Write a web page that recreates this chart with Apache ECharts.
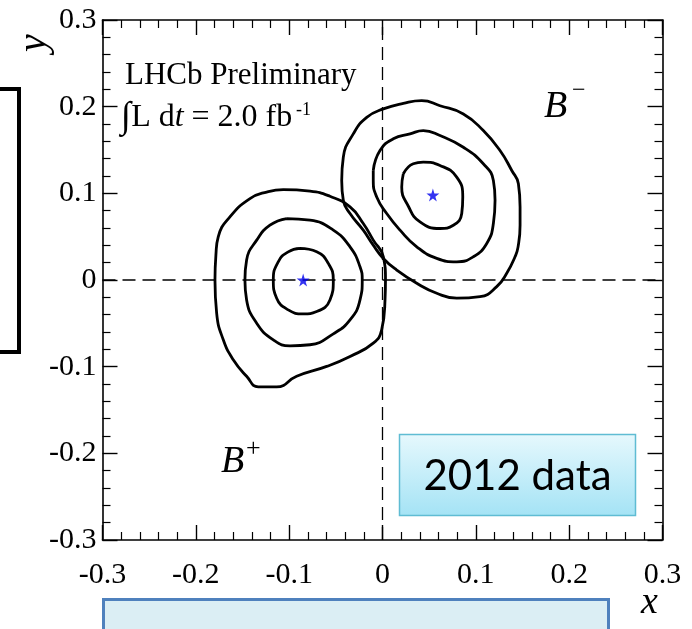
<!DOCTYPE html>
<html>
<head>
<meta charset="utf-8">
<script src="https://cdn.jsdelivr.net/npm/echarts@6/dist/echarts.min.js"></script>
<style>
html,body{margin:0;padding:0;background:#fff;}
#c{width:692px;height:629px;}
</style>
</head>
<body>
<div id="c"></div>
<script>
// ---- axis ----
const axisMin = -0.3;
const axisMax = 0.3;
const axisStep = 0.1;

// ---- best-fit points ----
const bPlusBest = [[-0.085, 0.0]];
const bMinusBest = [[0.054, 0.098]];

// ---- B+ contours (x, y) ----
const bPlusInner = [
  [-0.0884,0.0364],[-0.0705,0.0325],[-0.0581,0.0192],[-0.0527,0.0],[-0.0563,-0.0230],
  [-0.0705,-0.0364],[-0.0849,-0.0391],[-0.1010,-0.0345],[-0.1134,-0.0210],[-0.1170,0.0],
  [-0.1117,0.0210],[-0.1010,0.0325],[-0.0884,0.0364]
];
const bPlusMiddle = [
  [-0.1027,0.0709],[-0.0777,0.0690],[-0.0527,0.0575],[-0.0348,0.0383],[-0.0241,0.0153],
  [-0.0217,0.0],[-0.0241,-0.0230],[-0.0348,-0.0460],[-0.0527,-0.0621],[-0.0777,-0.0747],
  [-0.0991,-0.0759],[-0.1170,-0.0690],[-0.1348,-0.0498],[-0.1456,-0.0230],[-0.1474,0.0],
  [-0.1456,0.0230],[-0.1348,0.0460],[-0.1206,0.0632],[-0.1027,0.0709]
];
const bPlusOuter = [
  [-0.1795,0.0],[-0.1785,0.0287],[-0.1760,0.0498],[-0.1635,0.0728],[-0.1420,0.0939],
  [-0.1241,0.1015],[-0.1063,0.1043],[-0.0777,0.1026],[-0.0563,0.0966],[-0.0348,0.0843],
  [-0.0206,0.0652],[-0.0099,0.0460],[0.0009,0.0268],[0.0032,0.0],[0.0027,-0.0230],
  [-0.0009,-0.0575],[-0.0099,-0.0728],[-0.0348,-0.0882],[-0.0598,-0.0997],[-0.0920,-0.1111],
  [-0.1134,-0.1233],[-0.1331,-0.1233],[-0.1456,-0.1111],[-0.1599,-0.0920],[-0.1706,-0.0690],
  [-0.1777,-0.0383],[-0.1795,0.0]
];

// ---- B- contours (x, y) ----
const bMinusInner = [
  [0.0223,0.1226],[0.0330,0.1341],[0.0437,0.1360],[0.0616,0.1322],[0.0795,0.1187],
  [0.0860,0.0957],[0.0849,0.0767],[0.0759,0.0632],[0.0616,0.0594],[0.0402,0.0670],
  [0.0277,0.0851],[0.0206,0.1072],[0.0223,0.1226]
];
const bMinusMiddle = [
  [-0.0099,0.1264],[-0.0027,0.1494],[0.0116,0.1629],[0.0295,0.1686],[0.0437,0.1724],
  [0.0616,0.1667],[0.0866,0.1532],[0.1080,0.1341],[0.1188,0.1149],[0.1206,0.0920],
  [0.1188,0.0652],[0.1117,0.0422],[0.0973,0.0268],[0.0795,0.0210],[0.0581,0.0249],
  [0.0367,0.0383],[0.0188,0.0575],[0.0045,0.0767],[-0.0062,0.0957],[-0.0099,0.1149],
  [-0.0099,0.1264]
];
const bMinusOuter = [
  [-0.0437,0.1149],[-0.0420,0.1417],[-0.0313,0.1686],[-0.0169,0.1877],[0.0009,0.1974],
  [0.0223,0.2038],[0.0420,0.2069],[0.0616,0.2011],[0.0866,0.1916],[0.1080,0.1724],
  [0.1259,0.1494],[0.1385,0.1264],[0.1456,0.1111],[0.1474,0.0843],[0.1474,0.0632],
  [0.1452,0.0379],[0.1420,0.0268],[0.1331,0.0077],[0.1224,-0.0077],[0.1045,-0.0192],
  [0.0795,-0.0210],[0.0581,-0.0153],[0.0367,-0.0038],[0.0152,0.0115],[0.0009,0.0249],
  [-0.0099,0.0402],[-0.0206,0.0575],[-0.0348,0.0767],[-0.0420,0.0920],[-0.0437,0.1149]
];

// ---- reference lines ----
const vLine = [[0, axisMin],[0, axisMax]];
const hLine = [[axisMin, 0],[axisMax, 0]];

const serif = '"Liberation Serif","DejaVu Serif",serif';
const chart = echarts.init(document.getElementById('c'), null, {renderer:'canvas'});

function axisBase(showLabel, pos) {
  return {
    type: 'value', min: axisMin, max: axisMax, interval: axisStep, position: pos,
    axisLine: {show: true, onZero: false, lineStyle: {color: '#000', width: 1.6}},
    axisTick: {show: true, inside: true, length: 15, lineStyle: {color: '#000', width: 1.4}},
    minorTick: {show: true, splitNumber: 5, length: 8, lineStyle: {color: '#000', width: 1.2}},
    splitLine: {show: false},
    axisLabel: {
      show: showLabel, color: '#000', fontFamily: serif, fontSize: 30,
      formatter: v => (Math.abs(v) < 1e-9 ? '0' : String(Math.round(v * 10) / 10))
    }
  };
}

function contour(data) {
  return {
    type: 'line', data: data, symbol: 'none', smooth: 0.5,
    lineStyle: {color: '#000', width: 2.8}, silent: true, z: 3
  };
}
function dashed(data) {
  return {
    type: 'line', data: data, symbol: 'none',
    lineStyle: {color: '#000', width: 1.3, type: [13, 7]}, silent: true, z: 2
  };
}
const starPath = 'path://M50,0 L61,35 L98,35 L68,57 L79,91 L50,70 L21,91 L32,57 L2,35 L39,35 Z';
function star(data) {
  return {
    type: 'scatter', data: data, symbol: starPath, symbolSize: 13,
    itemStyle: {color: '#0000ee'}, silent: true, z: 5
  };
}

const xb = axisBase(true, 'bottom');
xb.axisLabel.margin = 20;
const xt = axisBase(false, 'top');
const yl = axisBase(true, 'left');
yl.axisLabel.margin = 6;
const yr = axisBase(false, 'right');

chart.setOption({
  animation: false,
  backgroundColor: '#fff',
  grid: {left: 102.5, right: 29.5, top: 20, bottom: 89},
  xAxis: [xb, xt],
  yAxis: [yl, yr],
  series: [
    dashed(vLine), dashed(hLine),
    contour(bPlusInner), contour(bPlusMiddle), contour(bPlusOuter),
    contour(bMinusInner), contour(bMinusMiddle), contour(bMinusOuter),
    star(bPlusBest), star(bMinusBest)
  ],
  graphic: [
    // y axis title
    {type: 'text', x: 14, y: 52, rotation: Math.PI / 2,
     style: {text: 'y', font: 'italic 40px ' + serif, fill: '#000', textAlign: 'left', textVerticalAlign: 'top'}},
    // x axis title
    {type: 'text', x: 641, y: 584,
     style: {text: 'x', font: 'italic 38px ' + serif, fill: '#000'}},
    // LHCb text
    {type: 'text', x: 125, y: 60,
     style: {text: 'LHCb Preliminary', font: '31px ' + serif, fill: '#000'}},
    {type: 'text', x: 121, y: 99,
     style: {
       text: '{a|∫}{b|L d}{c|t}{b| = 2.0 fb}',
       rich: {
         a: {fontFamily: serif, fontSize: 37, fill: '#000'},
         b: {fontFamily: serif, fontSize: 32, fill: '#000'},
         c: {fontFamily: serif, fontSize: 32, fontStyle: 'italic', fill: '#000'}
       }
     }},
    {type: 'text', x: 296, y: 101,
     style: {text: '-1', font: '18px ' + serif, fill: '#000'}},
    // B labels
    {type: 'text', x: 221, y: 443,
     style: {text: 'B', font: 'italic 38px ' + serif, fill: '#000'}},
    {type: 'text', x: 246, y: 436,
     style: {text: '+', font: '26px ' + serif, fill: '#000'}},
    {type: 'text', x: 544, y: 88,
     style: {text: 'B', font: 'italic 38px ' + serif, fill: '#000'}},
    {type: 'text', x: 572, y: 79,
     style: {text: '−', font: '24px ' + serif, fill: '#000'}},
    // 2012 data box
    {type: 'rect', shape: {x: 399.5, y: 434.5, width: 236, height: 81},
     style: {
       fill: new echarts.graphic.LinearGradient(0, 0, 0, 1, [
         {offset: 0, color: '#e6f8fd'}, {offset: 1, color: '#a4e3f5'}]),
       stroke: '#5fbcd3', lineWidth: 1.5
     }, z: 10},
    {type: 'text', x: 517.5, y: 476, z: 11,
     style: {text: '2012 data', font: '42px Lato, "Open Sans", sans-serif', fill: '#000',
             textAlign: 'center', textVerticalAlign: 'middle'}},
    // bottom box (cut off)
    {type: 'rect', shape: {x: 103.5, y: 599.5, width: 505, height: 60},
     style: {fill: '#dbeef4', stroke: '#4f81bd', lineWidth: 3}, z: 10},
    // left box (cut off)
    {type: 'rect', shape: {x: -10, y: 89, width: 29, height: 263},
     style: {fill: 'none', stroke: '#000', lineWidth: 4}, z: 10}
  ]
});
</script>
</body>
</html>
